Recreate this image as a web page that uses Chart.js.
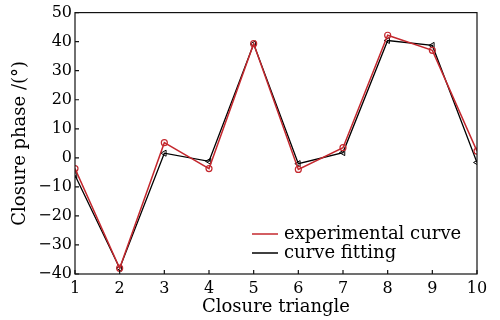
<!DOCTYPE html>
<html>
<head>
<meta charset="utf-8">
<script src="https://cdn.jsdelivr.net/npm/chart.js@4"></script>
<style>
  html, body { margin: 0; padding: 0; background: #fff; }
  #wrap { width: 500px; height: 320px; }
</style>
</head>
<body>
<div id="wrap"><canvas id="c"></canvas></div>
<script>
// closure triangle index
const triangles = [1, 2, 3, 4, 5, 6, 7, 8, 9, 10];
// closure phase in degrees
const experimental = [-3.7, -38, 5.2, -3.7, 39.3, -4, 3.5, 42.2, 37, 2.3];
const fitting = [-6, -38, 1.6, -1.2, 39.2, -2, 1.8, 40.4, 38.7, -1.6];
const yTicks = [-40, -30, -20, -10, 0, 10, 20, 30, 40, 50];

const FONT = 'DejaVu Serif';
const RED = '#c4282e';

// box around the plot + inward tick marks + legend
const frame = {
  id: 'frame',
  afterDraw(chart) {
    const ctx = chart.ctx;
    const a = chart.chartArea;
    const x = chart.scales.x, y = chart.scales.y;
    ctx.save();
    ctx.strokeStyle = '#111';
    ctx.lineWidth = 1.2;
    ctx.strokeRect(a.left, a.top, a.right - a.left, a.bottom - a.top);
    ctx.beginPath();
    x.ticks.forEach((t, i) => {
      const px = x.getPixelForTick(i);
      ctx.moveTo(px, a.bottom);
      ctx.lineTo(px, a.bottom - 4);
    });
    y.ticks.forEach((t, i) => {
      const py = y.getPixelForTick(i);
      ctx.moveTo(a.left, py);
      ctx.lineTo(a.left + 4, py);
    });
    ctx.stroke();

    const items = [
      { text: chart.data.datasets[0].label, color: RED, y: 234 },
      { text: chart.data.datasets[1].label, color: '#000', y: 253 }
    ];
    ctx.font = '18px "' + FONT + '"';
    ctx.textBaseline = 'middle';
    ctx.fillStyle = '#000';
    items.forEach(it => {
      ctx.beginPath();
      ctx.strokeStyle = it.color;
      ctx.lineWidth = 1.5;
      ctx.moveTo(252, it.y);
      ctx.lineTo(278, it.y);
      ctx.stroke();
      ctx.fillText(it.text, 284, it.y);
    });
    ctx.restore();
  }
};

new Chart(document.getElementById('c'), {
  type: 'line',
  data: {
    labels: triangles,
    datasets: [{
      label: 'experimental curve',
      data: experimental,
      borderColor: RED,
      borderWidth: 1.5,
      pointStyle: 'circle',
      pointRadius: 3,
      pointBorderWidth: 1.2,
      pointBorderColor: RED,
      pointBackgroundColor: 'rgba(0,0,0,0)',
      tension: 0
    }, {
      label: 'curve fitting',
      data: fitting,
      borderColor: '#000',
      borderWidth: 1.3,
      pointStyle: 'triangle',
      pointRotation: -90,
      pointRadius: 3.5,
      pointBorderWidth: 1,
      pointBorderColor: '#000',
      pointBackgroundColor: 'rgba(0,0,0,0)',
      tension: 0
    }]
  },
  options: {
    responsive: true,
    maintainAspectRatio: false,
    animation: false,
    layout: { padding: { top: 12, right: 23, left: 0, bottom: 0 } },
    plugins: {
      legend: { display: false },
      tooltip: { enabled: false }
    },
    scales: {
      x: {
        type: 'linear',
        min: 1,
        max: 10,
        afterFit(s) { s.height = 46; },
        afterBuildTicks(s) { s.ticks = triangles.map(v => ({ value: v })); },
        grid: { display: false, drawTicks: false },
        border: { display: false },
        ticks: {
          color: '#000',
          padding: 5,
          font: { family: FONT, size: 16 },
          maxRotation: 0
        },
        title: {
          display: true,
          text: 'Closure triangle',
          color: '#000',
          font: { family: FONT, size: 18 },
          padding: { top: 0, bottom: 2 }
        }
      },
      y: {
        min: -40,
        max: 50,
        afterFit(s) { s.width = 75; },
        afterBuildTicks(s) { s.ticks = yTicks.map(v => ({ value: v })); },
        grid: { display: false, drawTicks: false },
        border: { display: false },
        ticks: {
          color: '#000',
          padding: 3,
          font: { family: FONT, size: 16 },
          callback: v => String(v).replace('-', '\u2212')
        },
        title: {
          display: true,
          text: 'Closure phase /(°)',
          color: '#000',
          font: { family: FONT, size: 18 },
          padding: { top: 10, bottom: 0 }
        }
      }
    }
  },
  plugins: [frame]
});
</script>
</body>
</html>
